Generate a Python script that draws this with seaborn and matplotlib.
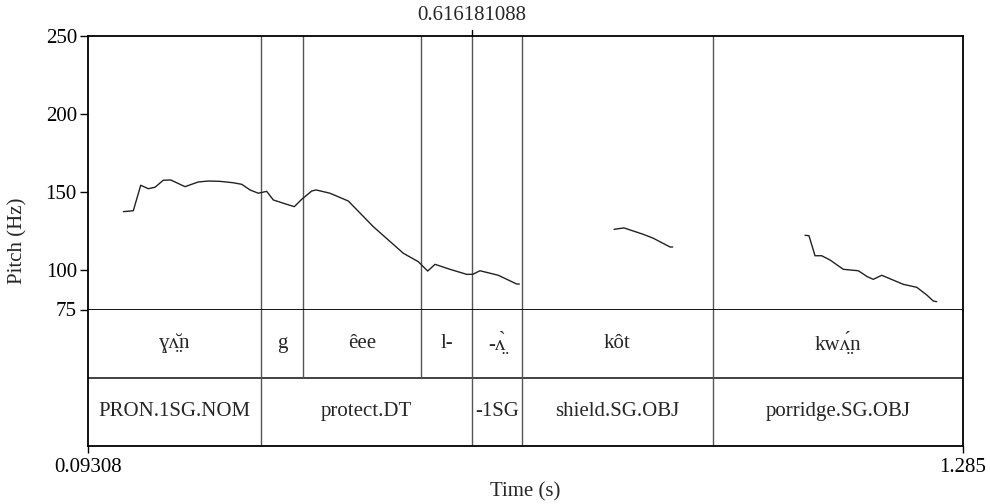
import numpy as np
import pandas as pd
import matplotlib.pyplot as plt
import matplotlib.transforms as mtransforms
import seaborn as sns

# time window and cursor (s)
t_start = 0.09308
t_end = 1.285
cursor = 0.616181088

# pitch contour, three voiced stretches (time s, pitch Hz)
time1 = [0.1412, 0.1548, 0.1649, 0.1752, 0.1843, 0.1956, 0.2057, 0.2252, 0.2433,
         0.2570, 0.2729, 0.2910, 0.3025, 0.3138, 0.3251, 0.3365, 0.3455, 0.3591,
         0.3741, 0.3842, 0.3978, 0.4037, 0.4227, 0.4477, 0.4817, 0.5226, 0.5430,
         0.5558, 0.5658, 0.5862, 0.6089, 0.6171, 0.6271, 0.6520, 0.6771, 0.6806]
pitch1 = [137.6, 138.2, 154.5, 152.3, 153.2, 157.7, 157.9, 153.6, 156.6,
          157.2, 157.0, 156.1, 155.1, 151.5, 149.4, 150.6, 145.1, 143.0,
          140.8, 145.5, 150.8, 151.5, 149.4, 144.4, 128.0, 111.0, 105.6,
          99.6, 103.9, 100.7, 97.5, 97.5, 99.8, 96.9, 91.3, 91.3]
time2 = [0.8096, 0.8232, 0.8495, 0.8631, 0.8859, 0.8895]
pitch2 = [126.3, 127.2, 123.1, 120.6, 115.0, 115.0]
time3 = [1.0698, 1.0752, 1.0834, 1.0925, 1.1038, 1.1220, 1.1424, 1.1547,
         1.1628, 1.1743, 1.2037, 1.2220, 1.2356, 1.2446, 1.2492]
pitch3 = [122.5, 122.2, 109.4, 109.4, 106.7, 100.7, 99.8, 96.0,
          94.3, 96.9, 91.1, 89.2, 84.3, 80.4, 80.0]

# text grid tiers
tier1_bounds = [0.3284, 0.3860, 0.5467, cursor, 0.6839, 0.9445]
tier1_labels = ["\u0263\u028c\u0306\u0324n", "g", "\u00eaee", "l-",
                "-\u028c\u0300\u0324", "k\u00f4t", "kw\u028c\u0301\u0324n"]
tier2_bounds = [0.3284, cursor, 0.6839, 0.9445]
tier2_labels = ["PRON.1SG.NOM", "protect.DT", "-1SG", "shield.SG.OBJ",
                "porridge.SG.OBJ"]

pitch_ticks = [75, 100, 150, 200, 250]

sns.set_theme(style="white")
plt.rcParams["font.family"] = ["Liberation Serif", "DejaVu Serif"]
fs = 15

df = pd.concat([
    pd.DataFrame({"time": time1, "pitch": pitch1, "seg": 1}),
    pd.DataFrame({"time": time2, "pitch": pitch2, "seg": 2}),
    pd.DataFrame({"time": time3, "pitch": pitch3, "seg": 3}),
])

W, H = 990, 504
fig = plt.figure(figsize=(W / 100, H / 100), dpi=100)
x0, x1 = 88, 963
ax = fig.add_axes([x0 / W, 1 - 309.5 / H, (x1 - x0) / W, 273.5 / H])
tx = fig.add_axes([x0 / W, 1 - 445.5 / H, (x1 - x0) / W, 136 / H], sharex=ax)

sns.lineplot(data=df, x="time", y="pitch", units="seg", estimator=None,
             color="#222222", linewidth=1.0, ax=ax, legend=False)
ax.set_xlim(t_start, t_end)
ax.set_ylim(75, 250)
ax.set_yticks(pitch_ticks)
ax.set_yticklabels([str(v) for v in pitch_ticks], fontsize=fs)
ax.tick_params(axis="y", left=True, direction="out", length=6, width=1,
               pad=2, colors="black")
ax.tick_params(axis="x", bottom=False, labelbottom=False)
ax.set_xlabel("")
ax.set_ylabel("")
for s in ax.spines.values():
    s.set_color("black")
    s.set_linewidth(1.3)

for b in tier1_bounds:
    ax.axvline(b, color="#555555", linewidth=1.0, zorder=1)

# cursor label and tick above the frame
blend = mtransforms.blended_transform_factory(ax.transData, ax.transAxes)
ax.plot([cursor, cursor], [1.0, 1.0 + 6 / 273.5], color="black", linewidth=1.0,
        transform=blend, clip_on=False)
ax.text(cursor, 1.0 + 20 / 273.5, "0.616181088", transform=blend, ha="center",
        va="center", fontsize=fs)

# tiers
tx.set_ylim(0, 2)
tx.set_yticks([])
tx.axhline(1, color="#333333", linewidth=1.3)
for b in tier1_bounds:
    tx.plot([b, b], [1, 2], color="#555555", linewidth=1.0)
for b in tier2_bounds:
    tx.plot([b, b], [0, 1], color="#555555", linewidth=1.0)

edges1 = [t_start] + tier1_bounds + [t_end]
for lab, a, b in zip(tier1_labels, edges1[:-1], edges1[1:]):
    tx.text((a + b) / 2, 1.5, lab, ha="center", va="center", fontsize=fs)
edges2 = [t_start] + tier2_bounds + [t_end]
for lab, a, b in zip(tier2_labels, edges2[:-1], edges2[1:]):
    tx.text((a + b) / 2, 0.5, lab, ha="center", va="center", fontsize=fs)

tx.set_xticks([t_start, t_end])
tx.set_xticklabels(["0.09308", "1.285"], fontsize=fs)
tx.tick_params(axis="x", bottom=True, direction="out", length=5, width=1,
               pad=4, colors="black")
tx.spines["top"].set_visible(False)
for k in ["left", "right", "bottom"]:
    tx.spines[k].set_color("black")
    tx.spines[k].set_linewidth(1.3)

fig.text((x0 + x1) / 2 / W, 1 - 492 / H, "Time (s)", ha="center", va="center",
         fontsize=fs)
fig.text(18 / W, 1 - 241 / H, "Pitch (Hz)", ha="center", va="center",
         rotation=90, fontsize=fs)

fig.savefig("out.png", dpi=100, facecolor="white")
